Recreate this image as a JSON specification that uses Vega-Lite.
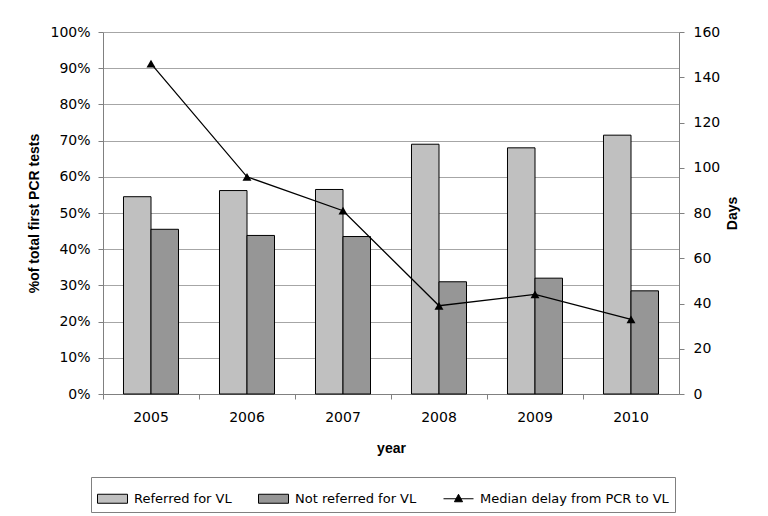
{
  "$schema": "https://vega.github.io/schema/vega-lite/v6.json",
  "width": 576,
  "height": 362,
  "autosize": {"type": "none"},
  "padding": {"left": 103, "top": 32, "right": 89, "bottom": 122},
  "background": "white",
  "config": {
    "view": {"stroke": null},
    "axis": {
      "labelFont": "DejaVu Sans",
      "labelFontSize": 14,
      "labelColor": "black",
      "titleFont": "Liberation Sans",
      "titleFontSize": 14,
      "titleFontWeight": "bold",
      "titleColor": "black",
      "domainColor": "#808080",
      "tickColor": "#808080",
      "gridColor": "#a6a6a6",
      "tickSize": 5
    }
  },
  "datasets": {
    "bars": [
      {"year": "2005", "series": "Referred for VL", "pct": 0.545},
      {"year": "2005", "series": "Not referred for VL", "pct": 0.455},
      {"year": "2006", "series": "Referred for VL", "pct": 0.562},
      {"year": "2006", "series": "Not referred for VL", "pct": 0.438},
      {"year": "2007", "series": "Referred for VL", "pct": 0.565},
      {"year": "2007", "series": "Not referred for VL", "pct": 0.435},
      {"year": "2008", "series": "Referred for VL", "pct": 0.69},
      {"year": "2008", "series": "Not referred for VL", "pct": 0.31},
      {"year": "2009", "series": "Referred for VL", "pct": 0.68},
      {"year": "2009", "series": "Not referred for VL", "pct": 0.32},
      {"year": "2010", "series": "Referred for VL", "pct": 0.715},
      {"year": "2010", "series": "Not referred for VL", "pct": 0.285}
    ],
    "delay": [
      {"year": "2005", "days": 146},
      {"year": "2006", "days": 96},
      {"year": "2007", "days": 81},
      {"year": "2008", "days": 39},
      {"year": "2009", "days": 44},
      {"year": "2010", "days": 33}
    ]
  },
  "layer": [
    {
      "data": {"name": "bars"},
      "mark": {"type": "bar", "stroke": "black", "strokeWidth": 1},
      "encoding": {
        "x": {
          "field": "year",
          "type": "nominal",
          "scale": {"paddingInner": 0, "paddingOuter": 0},
          "axis": {
            "title": "year",
            "bandPosition": 0,
            "labelAngle": 0,
            "labelPadding": 11,
            "titlePadding": 17,
            "grid": false
          }
        },
        "xOffset": {
          "field": "series",
          "type": "nominal",
          "sort": ["Referred for VL", "Not referred for VL"],
          "scale": {"paddingInner": 0, "paddingOuter": 0.745}
        },
        "y": {
          "field": "pct",
          "type": "quantitative",
          "scale": {"domain": [0, 1]},
          "axis": {
            "title": "%of total first PCR tests",
            "format": ".0%",
            "values": [0, 0.1, 0.2, 0.3, 0.4, 0.5, 0.6, 0.7, 0.8, 0.9, 1],
            "grid": true,
            "labelPadding": 8,
            "titlePadding": 8
          }
        },
        "fill": {
          "field": "series",
          "type": "nominal",
          "scale": {
            "domain": ["Referred for VL", "Not referred for VL", "Median delay from PCR to VL"],
            "range": ["#c0c0c0", "#969696", "#000000"]
          },
          "legend": {
            "orient": "none",
            "legendX": -12,
            "legendY": 445,
            "direction": "horizontal",
            "title": null,
            "padding": 6,
            "strokeColor": "#808080",
            "fillColor": "white",
            "labelFont": "DejaVu Sans",
            "labelFontSize": 13,
            "labelColor": "black",
            "labelLimit": 400,
            "labelOffset": 6,
            "columnPadding": 24,
            "symbolSize": 900,
            "symbolStrokeColor": "black",
            "symbolStrokeWidth": 1,
            "symbolType": "M-1,-0.3H1V0.3H-1Z",
            "encode": {
              "symbols": {
                "update": {
                  "shape": {"signal": "datum.value === 'Median delay from PCR to VL' ? 'M-1,0H1M0,-0.3L0.27,0.2H-0.27Z' : 'M-1,-0.3H1V0.3H-1Z'"},
                  "stroke": {"value": "black"},
                  "strokeWidth": {"value": 1}
                }
              }
            }
          }
        }
      }
    },
    {
      "data": {"name": "delay"},
      "encoding": {
        "x": {
          "field": "year",
          "type": "nominal",
          "axis": {
            "title": "year",
            "bandPosition": 0,
            "labelAngle": 0,
            "labelPadding": 11,
            "titlePadding": 17,
            "grid": false
          }
        },
        "y": {
          "field": "days",
          "type": "quantitative",
          "scale": {"domain": [0, 160]},
          "axis": {
            "orient": "right",
            "title": "Days",
            "titleAngle": 270,
            "values": [0, 20, 40, 60, 80, 100, 120, 140, 160],
            "grid": false,
            "labelPadding": 9,
            "titlePadding": 20
          }
        }
      },
      "layer": [
        {"mark": {"type": "line", "color": "black", "strokeWidth": 1.3}},
        {"mark": {"type": "point", "shape": "triangle-up", "filled": true, "color": "black", "size": 80, "opacity": 1}}
      ]
    }
  ],
  "resolve": {"scale": {"y": "independent"}}
}
